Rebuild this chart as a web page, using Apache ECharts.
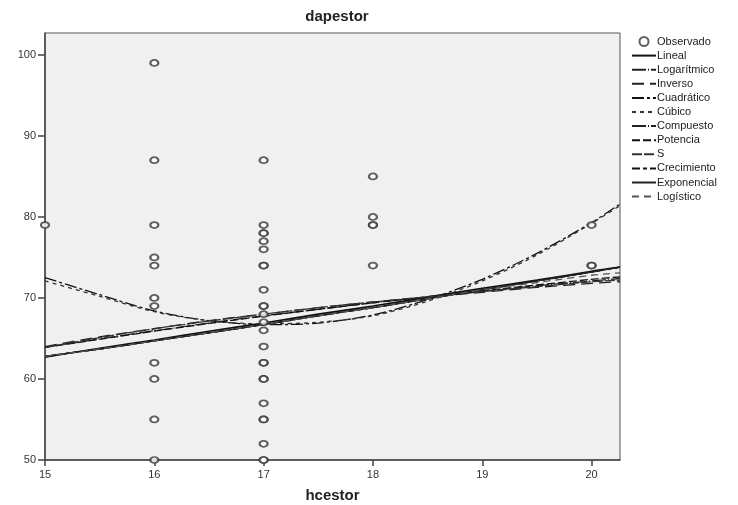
<!DOCTYPE html>
<html>
<head>
<meta charset="utf-8">
<script src="https://cdn.jsdelivr.net/npm/echarts@6/dist/echarts.min.js"></script>
<style>
  html, body { margin: 0; padding: 0; background: #fff; }
  #main { width: 738px; height: 505px; }
</style>
</head>
<body>
<div id="main"></div>
<script>
// observed points (hcestor, dapestor)
var obsX = [15,
  16, 16, 16, 16, 16, 16, 16, 16, 16, 16, 16,
  17, 17, 17, 17, 17, 17, 17, 17, 17, 17, 17, 17, 17, 17, 17, 17, 17, 17, 17, 17, 17, 17, 17, 17, 17,
  18, 18, 18, 18, 18,
  20, 20, 20];
var obsY = [79,
  99, 87, 79, 75, 74, 70, 69, 62, 60, 55, 50,
  87, 79, 78, 78, 77, 76, 74, 74, 71, 69, 69, 68, 67, 66, 64, 62, 62, 60, 60, 57, 55, 55, 52, 50, 50,
  85, 80, 79, 79, 74,
  79, 74, 74];

// fitted curves read at these x positions
var fitX = [15, 15.5, 16, 16.5, 17, 17.5, 18, 18.5, 19, 19.5, 20, 20.26];
var lineal      = [62.7, 63.8, 64.8, 65.9, 66.9, 68.0, 69.0, 70.1, 71.2, 72.2, 73.3, 73.8];
var logaritmico = [63.9, 64.95, 65.95, 66.9, 67.8, 68.6, 69.4, 70.1, 70.8, 71.5, 72.1, 72.4];
var inverso     = [64.0, 65.2, 66.2, 67.2, 68.0, 68.8, 69.5, 70.1, 70.7, 71.3, 71.8, 72.0];
var cuadratico  = [72.5, 70.4, 68.4, 67.2, 66.7, 66.9, 67.9, 69.8, 72.3, 75.5, 79.3, 81.6];
var cubico      = [72.1, 70.2, 68.3, 67.2, 66.8, 67.0, 67.8, 69.6, 72.1, 75.3, 79.2, 81.4];
var compuesto   = [62.8, 63.7, 64.7, 65.7, 66.7, 67.8, 68.8, 69.9, 71.0, 72.1, 73.2, 73.8];
var potencia    = [63.9, 64.9, 65.9, 66.85, 67.75, 68.6, 69.4, 70.15, 70.9, 71.6, 72.3, 72.6];
var sCurva      = [63.9, 65.1, 66.2, 67.15, 68.0, 68.8, 69.5, 70.15, 70.8, 71.4, 72.0, 72.2];
var crecimiento = [62.8, 63.7, 64.7, 65.7, 66.7, 67.8, 68.8, 69.9, 71.0, 72.1, 73.2, 73.8];
var exponencial = [62.8, 63.7, 64.7, 65.7, 66.7, 67.8, 68.8, 69.9, 71.0, 72.1, 73.2, 73.8];
var logistico   = [62.8, 63.7, 64.7, 65.7, 66.7, 67.8, 68.8, 69.9, 71.0, 71.9, 72.8, 73.1];

var xTicks = [15, 16, 17, 18, 19, 20];
var yTicks = [50, 60, 70, 80, 90, 100];

var font = 'Arial, "Liberation Sans", sans-serif';

function pairs(xs, ys) {
    var out = [];
    for (var i = 0; i < xs.length; i++) out.push([xs[i], ys[i]]);
    return out;
}

function fitSeries(name, ys, color, dash, width) {
    return {
        name: name,
        type: 'line',
        data: pairs(fitX, ys),
        smooth: 0.3,
        symbol: 'none',
        clip: true,
        lineStyle: { color: color, width: width || 1.3, type: dash },
        itemStyle: { color: color },
        emphasis: { disabled: true },
        z: 3
    };
}

var series = [{
    name: 'Observado',
    type: 'scatter',
    data: pairs(obsX, obsY),
    symbol: 'emptyCircle',
    symbolSize: [8, 6],
    itemStyle: { color: '#3a3a3a', borderColor: '#3a3a3a', borderWidth: 1.2 },
    z: 4
}];

series.push(fitSeries('Lineal', lineal, '#111', 'solid', 1.6));
series.push(fitSeries('Logarítmico', logaritmico, '#222', [14, 2, 1, 2]));
series.push(fitSeries('Inverso', inverso, '#222', [12, 6]));
series.push(fitSeries('Cuadrático', cuadratico, '#111', [12, 3, 3, 3]));
series.push(fitSeries('Cúbico', cubico, '#333', [4, 4]));
series.push(fitSeries('Compuesto', compuesto, '#222', [14, 2, 1, 2]));
series.push(fitSeries('Potencia', potencia, '#111', [8, 3]));
series.push(fitSeries('S', sCurva, '#333', [10, 2]));
series.push(fitSeries('Crecimiento', crecimiento, '#111', [8, 3, 4, 3]));
series.push(fitSeries('Exponencial', exponencial, '#222', 'solid'));
series.push(fitSeries('Logístico', logistico, '#555', [7, 5]));

var legendNames = ['Observado', 'Lineal', 'Logarítmico', 'Inverso', 'Cuadrático', 'Cúbico',
    'Compuesto', 'Potencia', 'S', 'Crecimiento', 'Exponencial', 'Logístico'];

var legendData = [];
for (var i = 0; i < legendNames.length; i++) {
    if (i === 0) legendData.push({ name: legendNames[i] });
    else legendData.push({ name: legendNames[i], itemStyle: { opacity: 0 } });
}

var option = {
    backgroundColor: '#fff',
    animation: false,
    title: {
        text: 'dapestor',
        left: 332,
        top: 4,
        textAlign: 'center',
        textStyle: { fontFamily: font, fontSize: 15, fontWeight: 'bold', color: '#222' }
    },
    legend: {
        data: legendData,
        orient: 'vertical',
        left: 626,
        top: 31,
        itemWidth: 24,
        itemHeight: 9,
        itemGap: 3.1,
        textStyle: { fontFamily: font, fontSize: 11, color: '#222', padding: [0, 0, 0, -4] },
        selectedMode: false
    },
    grid: {
        left: 45,
        top: 33,
        right: 118,
        bottom: 45,
        outerBoundsMode: 'none',
        show: true,
        backgroundColor: '#f0f0f0',
        borderColor: '#555',
        borderWidth: 1
    },
    xAxis: {
        type: 'value',
        min: 15,
        max: 20.26,
        interval: 1,
        name: 'hcestor',
        nameLocation: 'middle',
        nameGap: 28,
        nameTextStyle: { fontFamily: font, fontSize: 15, fontWeight: 'bold', color: '#222' },
        splitLine: { show: false },
        axisLine: { show: true, lineStyle: { color: '#444', width: 1.5 } },
        axisTick: { show: true, inside: false, length: 6, customValues: xTicks, lineStyle: { color: '#444', width: 1.5 } },
        axisLabel: { customValues: xTicks, fontFamily: font, fontSize: 11, color: '#333', margin: 9 }
    },
    yAxis: {
        type: 'value',
        min: 50,
        max: 102.7,
        interval: 10,
        splitLine: { show: false },
        axisLine: { show: true, lineStyle: { color: '#444', width: 1.5 } },
        axisTick: { show: true, inside: false, length: 7, customValues: yTicks, lineStyle: { color: '#444', width: 1.5 } },
        axisLabel: { customValues: yTicks, fontFamily: font, fontSize: 11, color: '#333', margin: 9 }
    },
    series: series
};

var myChart = echarts.init(document.getElementById('main'));
myChart.setOption(option);
</script>
</body>
</html>
